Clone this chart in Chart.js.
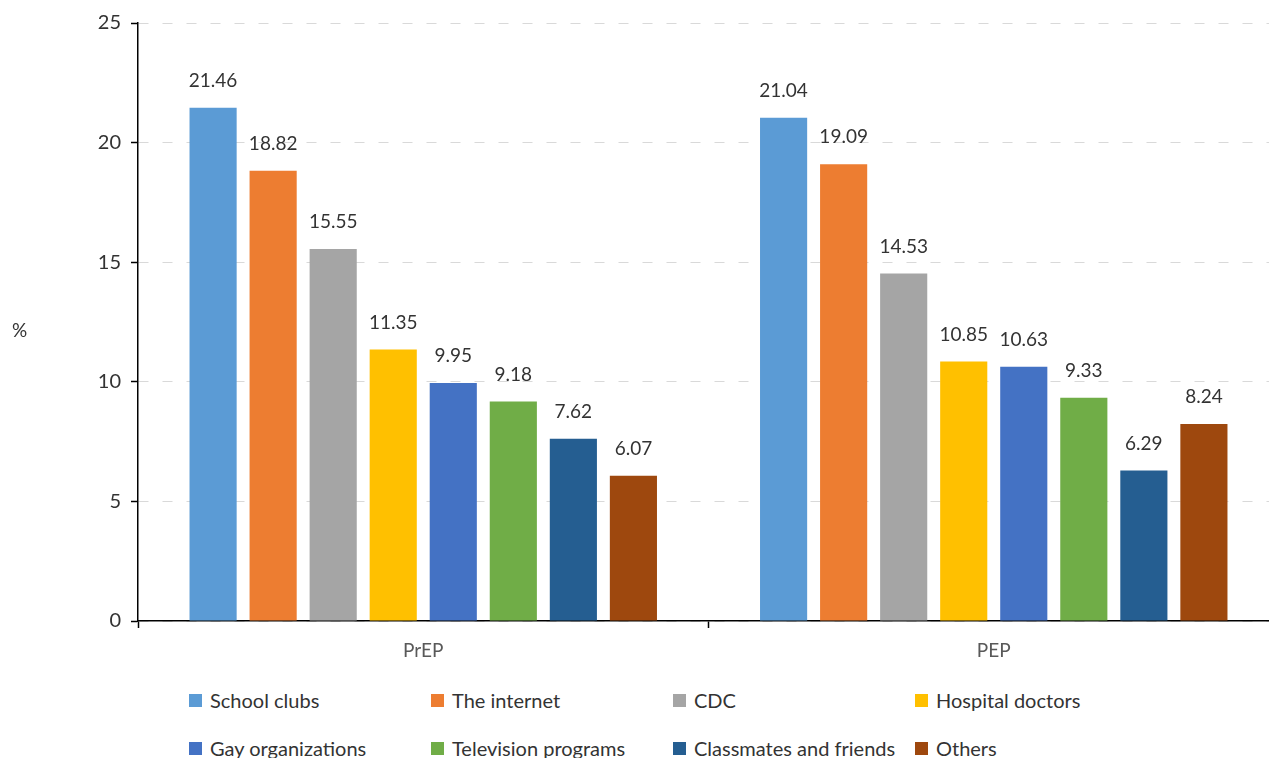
<!DOCTYPE html>
<html lang="en">
<head>
  <meta charset="UTF-8" />
  <title>Sources of PrEP / PEP information</title>
  <script src="https://cdn.jsdelivr.net/npm/chart.js"></script>
  <style>
    body {
      margin: 0;
      background: #fff;
      overflow: hidden;
      font-family: 'Lato', sans-serif;
      color: #333;
    }
    #wrap {
      position: relative;
      width: 1280px;
      height: 758px;
    }
    #yTitle {
      position: absolute;
      left: 12px;
      top: 318px;
      font-size: 19px;
    }
    #legend {
      position: absolute;
      left: 189px;
      top: 688px;
      display: grid;
      grid-template-columns: repeat(4, 242px);
      row-gap: 24px;
    }
    .item {
      display: flex;
      align-items: center;
      height: 24px;
      font-size: 20px;
      white-space: nowrap;
    }
    .box {
      width: 13px;
      height: 13px;
      margin-right: 8px;
    }
  </style>
</head>
<body>
  <div id="wrap">
    <canvas id="barChart" width="1280" height="680"></canvas>
    <div id="yTitle">%</div>
    <div id="legend"></div>
  </div>

  <script>
    const groups = ['PrEP', 'PEP'];
    const sources = ['School clubs', 'The internet', 'CDC', 'Hospital doctors',
                     'Gay organizations', 'Television programs', 'Classmates and friends', 'Others'];
    const prepValues = [21.46, 18.82, 15.55, 11.35, 9.95, 9.18, 7.62, 6.07];
    const pepValues  = [21.04, 19.09, 14.53, 10.85, 10.63, 9.33, 6.29, 8.24];
    const colors = ['#5B9BD5', '#ED7D31', '#A5A5A5', '#FFC000', '#4472C4', '#70AD47', '#255E91', '#9E480E'];
    const yTicks = [0, 5, 10, 15, 20, 25];

    const datasets = sources.map((name, i) => ({
      label: name,
      data: [prepValues[i], pepValues[i]],
      backgroundColor: colors[i],
      categoryPercentage: 0.842,
      barPercentage: 0.785
    }));

    // value labels above each bar
    const valueLabels = {
      id: 'valueLabels',
      afterDatasetsDraw(chart) {
        const ctx = chart.ctx;
        ctx.save();
        ctx.font = '19px Lato, sans-serif';
        ctx.fillStyle = '#333';
        ctx.textAlign = 'center';
        ctx.textBaseline = 'middle';
        chart.data.datasets.forEach((ds, i) => {
          chart.getDatasetMeta(i).data.forEach((bar, j) => {
            ctx.fillText(ds.data[j].toFixed(2), bar.x, bar.y - 27);
          });
        });
        ctx.restore();
      }
    };

    new Chart(document.getElementById('barChart').getContext('2d'), {
      type: 'bar',
      data: { labels: groups, datasets },
      options: {
        responsive: false,
        animation: false,
        layout: { padding: { top: 23, right: 1, left: 0, bottom: 0 } },
        plugins: {
          legend: { display: false },
          tooltip: { enabled: false }
        },
        scales: {
          x: {
            afterFit: s => { s.height = 59; },
            grid: {
              drawOnChartArea: false,
              tickLength: 7,
              tickColor: '#000',
              tickWidth: 1.5
            },
            border: { color: '#000', width: 1.5 },
            ticks: { color: '#595959', font: { size: 19, family: 'Lato' }, padding: 11 }
          },
          y: {
            min: 0,
            max: 25,
            afterFit: s => { s.width = 138; },
            afterBuildTicks: s => { s.ticks = yTicks.map(v => ({ value: v })); },
            grid: {
              color: '#d9d9d9',
              lineWidth: 1,
              tickLength: 7,
              tickColor: '#000',
              tickWidth: 1.5
            },
            border: { color: '#000', width: 1.5, dash: [10, 14] },
            ticks: { color: '#333', font: { size: 20, family: 'Lato' }, padding: 10 }
          }
        }
      },
      plugins: [valueLabels]
    });

    const legendEl = document.getElementById('legend');
    sources.forEach((name, i) => {
      legendEl.innerHTML += `<div class="item"><span class="box" style="background:${colors[i]}"></span>${name}</div>`;
    });
  </script>
</body>
</html>
